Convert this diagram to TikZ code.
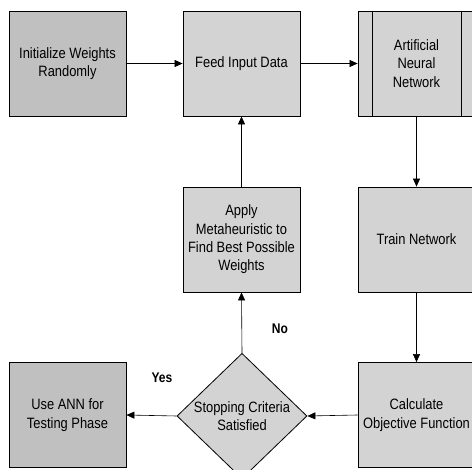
\documentclass[tikz,border=0pt]{standalone}
\usepackage{fontspec}
\setmainfont{Liberation Sans}
\newfontfamily\narrowfont[FakeStretch=0.86]{Liberation Sans}
\usetikzlibrary{shapes.geometric,arrows.meta}
\definecolor{boxlight}{HTML}{D3D3D3}
\definecolor{boxdark}{HTML}{C0C0C0}
\tikzset{
  x=1pt,y=1pt,
  procbox/.style={draw=black, line width=0.8pt, fill=boxlight, minimum width=117pt, minimum height=105pt, inner sep=0pt, align=center, font=\narrowfont\fontsize{15}{18.3}\selectfont},
  darkbox/.style={procbox, fill=boxdark},
  decision/.style={diamond, draw=black, line width=0.8pt, fill=boxlight, minimum width=130pt, minimum height=118pt, inner sep=0pt, align=center, font=\narrowfont\fontsize{15}{18.3}\selectfont},
  flow/.style={draw=black, line width=0.6pt, -{Triangle[length=8pt,width=7pt]}},
  lbl/.style={font=\narrowfont\bfseries\fontsize{14}{16}\selectfont}
}
\begin{document}
\begin{tikzpicture}
\useasboundingbox (0,0) rectangle (472,-470);
\clip (0,0) rectangle (472,-470);
\node[darkbox] (init) at (67.5,-63.5) {Initialize Weights\\Randomly};
\node[procbox] (feed) at (241.5,-63.5) {Feed Input Data};
\node[procbox] (ann) at (416.5,-63.5) {Artificial\\Neural\\Network};
\draw[line width=0.8pt] ([xshift=15pt]ann.north west) -- ([xshift=15pt]ann.south west);
\draw[line width=0.8pt] ([xshift=-14pt]ann.north east) -- ([xshift=-14pt]ann.south east);
\node[procbox] (apply) at (241.5,-239.5) {Apply\\Metaheuristic to\\Find Best Possible\\Weights};
\node[procbox] (train) at (416.5,-239.5) {Train Network};
\node[darkbox] (use) at (67.5,-415) {Use ANN for\\Testing Phase};
\node[procbox] (calc) at (416.5,-415) {Calculate\\Objective Function};
\node[decision] (stop) at (242,-416) {Stopping Criteria\\Satisfied};
\draw[flow] (init) -- (feed);
\draw[flow] (feed) -- (ann);
\draw[flow] (ann) -- (train);
\draw[flow] (train) -- (calc);
\draw[flow] (calc.west) -- (stop.east);
\draw[flow] (stop.west) -- (use.east);
\draw[flow] (stop.north) -- (apply.south);
\draw[flow] (apply.north) -- (feed.south);
\node[lbl] (no) at (280,-329) {No};
\node[lbl] (yes) at (162,-378) {Yes};
\end{tikzpicture}
\end{document}
